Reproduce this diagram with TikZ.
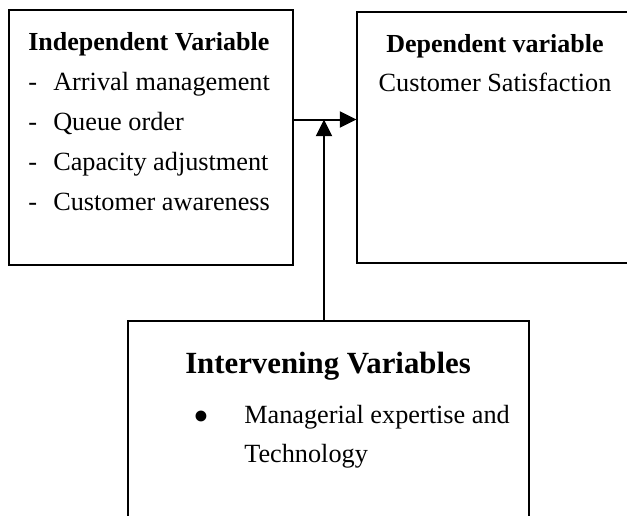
\documentclass[tikz,border=0pt]{standalone}
\usepackage{fontspec}
\setmainfont{Liberation Serif}
\usetikzlibrary{arrows.meta}
\begin{document}
\begin{tikzpicture}[x=0.75pt,y=-0.75pt,
  box/.style={draw,line width=1.5pt,inner sep=0pt,outer sep=0pt},
  txt/.style={inner sep=0pt,anchor=base west,font=\fontsize{19.7}{23}\selectfont},
  ctxt/.style={inner sep=0pt,anchor=base,font=\fontsize{19.7}{23}\selectfont},
  bold/.style={font=\fontsize{19.5}{23}\selectfont\bfseries},
  bigbold/.style={font=\fontsize{23.1}{27}\selectfont\bfseries},
  arr/.style={line width=1.5pt,-{Triangle[length=12.5pt,width=12pt]}}]
\clip (0,0) rectangle (627,515);
% boxes
\node[box,minimum width=213pt,minimum height=191.6pt] (indep) at (150.5,137.25) {};
\node[box,minimum width=206.6pt,minimum height=188.6pt] (dep) at (494.25,137.25) {};
\node[box,minimum width=300.75pt,minimum height=164.25pt] (interv) at (328.5,430.5) {};
% left texts
\node[txt,bold] (t1) at (28,50) {Independent Variable};
\node[txt] (d1) at (28,90) {-};
\node[txt] (l1) at (53,90) {Arrival management};
\node[txt] (d2) at (28,130) {-};
\node[txt] (l2) at (53,130) {Queue order};
\node[txt] (d3) at (28,170) {-};
\node[txt] (l3) at (53,170) {Capacity adjustment};
\node[txt] (d4) at (28,210) {-};
\node[txt] (l4) at (53,210) {Customer awareness};
% right texts
\node[ctxt,bold] (t2) at (495,52) {Dependent variable};
\node[ctxt] (r1) at (495,91) {Customer Satisfaction};
% bottom texts
\node[ctxt,bigbold] (t3) at (328,373) {Intervening Variables};
\node[inner sep=0pt,anchor=base,font=\fontsize{34}{36}\selectfont] (bul) at (201,431) {\textbullet};
\node[txt] (b1) at (244,423) {Managerial expertise and};
\node[txt] (b2) at (244,462) {Technology};
% connectors
\coordinate (j) at (324,119.5);
\draw[arr] (j -| indep.east) -- (j -| dep.west);
\draw[arr] (interv.north -| j) -- (j);
\end{tikzpicture}
\end{document}
